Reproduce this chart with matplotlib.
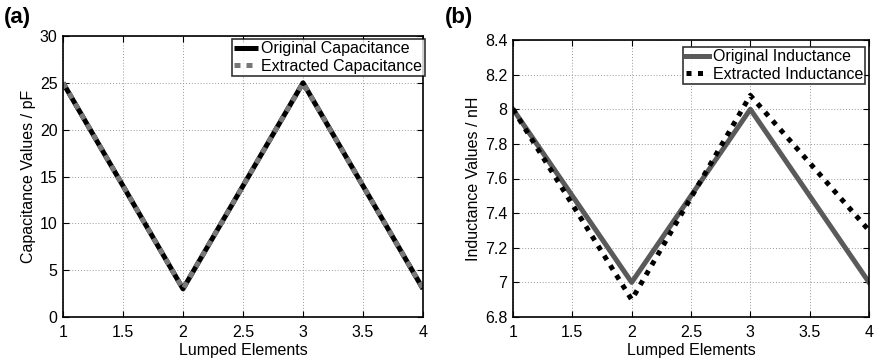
import matplotlib
matplotlib.use("Agg")
import matplotlib.pyplot as plt

plt.rcParams['font.family'] = ['Liberation Sans', 'DejaVu Sans']

elements = [1, 2, 3, 4]
cap_original = [25, 3, 25, 3]
cap_extracted = [25, 3, 25, 3]
ind_original = [8.0, 7.0, 8.0, 7.0]
ind_extracted = [8.0, 6.9, 8.08, 7.3]

W, H = 875, 362
fig = plt.figure(figsize=(W/100, H/100), dpi=100)

ax1 = fig.add_axes([63/W, 1-317/H, (423-63)/W, (317-36)/H])
ax2 = fig.add_axes([513/W, 1-317/H, (869-513)/W, (317-40)/H])

fs = 11.5
# Panel (a)
ax1.plot(elements, cap_original, color='black', lw=3.6, solid_capstyle='butt', label='Original Capacitance')
ax1.plot(elements, cap_extracted, color='#777777', lw=3.6, ls=(0, (1.2, 1.2)), label='Extracted Capacitance')
ax1.set_xlim(1, 4)
ax1.set_ylim(0, 30)
ax1.set_xticks([1, 1.5, 2, 2.5, 3, 3.5, 4])
ax1.set_xticklabels(['1', '1.5', '2', '2.5', '3', '3.5', '4'])
ax1.set_yticks([0, 5, 10, 15, 20, 25, 30])
ax1.set_xlabel('Lumped Elements', fontsize=fs, labelpad=2)
ax1.set_ylabel('Capacitance Values / pF', fontsize=fs, labelpad=3)
leg1 = ax1.legend(loc='upper right', bbox_to_anchor=(1.005, 0.99), fontsize=fs, frameon=True,
                  fancybox=False, edgecolor='black', handlelength=1.5, handletextpad=0.2,
                  borderpad=0.15, labelspacing=0.15, borderaxespad=0.0)
leg1.get_frame().set_linewidth(1.2)

# Panel (b)
ax2.plot(elements, ind_original, color='#5a5a5a', lw=3.6, label='Original Inductance')
ax2.plot(elements, ind_extracted, color='black', lw=3.6, ls=(0, (1, 1.3)), label='Extracted Inductance')
ax2.set_xlim(1, 4)
ax2.set_ylim(6.8, 8.4)
ax2.set_xticks([1, 1.5, 2, 2.5, 3, 3.5, 4])
ax2.set_xticklabels(['1', '1.5', '2', '2.5', '3', '3.5', '4'])
ax2.set_yticks([6.8, 7.0, 7.2, 7.4, 7.6, 7.8, 8.0, 8.2, 8.4])
ax2.set_yticklabels(['6.8', '7', '7.2', '7.4', '7.6', '7.8', '8', '8.2', '8.4'])
ax2.set_xlabel('Lumped Elements', fontsize=fs, labelpad=2)
ax2.set_ylabel('Inductance Values / nH', fontsize=fs, labelpad=3)
leg2 = ax2.legend(loc='upper right', bbox_to_anchor=(0.99, 0.975), fontsize=fs, frameon=True,
                  fancybox=False, edgecolor='black', handlelength=1.5, handletextpad=0.2,
                  borderpad=0.15, labelspacing=0.15, borderaxespad=0.0)
leg2.get_frame().set_linewidth(1.2)

for ax in (ax1, ax2):
    ax.grid(True, color='#999999', ls=(0, (1, 2)), lw=0.7)
    ax.tick_params(direction='in', labelsize=fs, length=4, width=0.8, top=True, right=True, pad=4)
    ax.tick_params(axis='x', pad=6)
    for s in ax.spines.values():
        s.set_linewidth(1.2)

fig.text(4/W, 1-18/H, '(a)', fontsize=16, fontweight='bold', va='center', ha='left')
fig.text(445/W, 1-18/H, '(b)', fontsize=16, fontweight='bold', va='center', ha='left')

fig.savefig('out.png', dpi=100)
